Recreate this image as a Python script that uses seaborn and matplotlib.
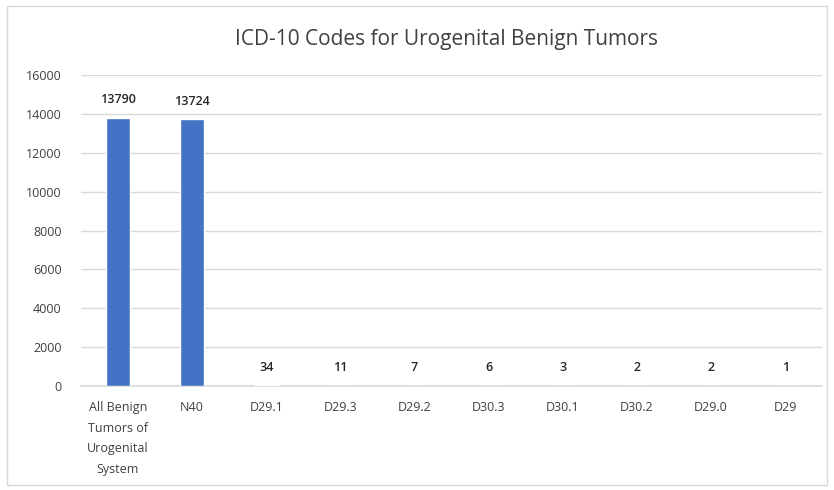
import matplotlib
matplotlib.use("Agg")
import matplotlib.pyplot as plt
import seaborn as sns
import pandas as pd
from matplotlib.patches import Rectangle

categories = [
    "All Benign\nTumors of\nUrogenital\nSystem",
    "N40", "D29.1", "D29.3", "D29.2", "D30.3", "D30.1", "D30.2", "D29.0", "D29",
]
counts = [13790, 13724, 34, 11, 7, 6, 3, 2, 2, 1]
y_ticks = [0, 2000, 4000, 6000, 8000, 10000, 12000, 14000, 16000]
title = "ICD-10 Codes for Urogenital Benign Tumors"

df = pd.DataFrame({"code": categories, "count": counts})

sns.set_theme(style="white")
plt.rcParams["font.family"] = ["Open Sans", "DejaVu Sans"]

fig = plt.figure(figsize=(8.34, 4.90), dpi=100)
fig.patches.append(Rectangle((0.008, 0.01), 0.984, 0.978, transform=fig.transFigure,
                             fill=False, edgecolor="#D9D9D9", linewidth=1))
ax = fig.add_axes([0.097, 0.212, 0.889, 0.635])

sns.barplot(data=df, x="code", y="count", color="#4472C4", width=0.32,
            saturation=1, ax=ax, zorder=3)

ax.set_ylim(0, 16000)
ax.set_yticks(y_ticks)
ax.set_yticklabels([str(t) for t in y_ticks], fontsize=9, color="#404040")
ax.tick_params(axis="x", labelsize=9, labelcolor="#404040", length=0, pad=11)
ax.tick_params(axis="y", length=0, pad=14)
for lbl in ax.get_xticklabels():
    lbl.set_linespacing(1.75)
ax.yaxis.grid(True, color="#D9D9D9", linewidth=1, zorder=0)
ax.set_xlabel("")
ax.set_ylabel("")
for side in ["top", "right", "left"]:
    ax.spines[side].set_visible(False)
ax.spines["bottom"].set_color("#D9D9D9")

for p, v in zip(ax.patches, counts):
    ax.text(p.get_x() + p.get_width() / 2, v + 600, str(v), ha="center", va="bottom",
            fontsize=9, color="#262626", fontweight="semibold")

fig.text(0.535, 0.92, title, ha="center", va="center", fontsize=15, color="#404040")

fig.savefig("out.png", dpi=100)
